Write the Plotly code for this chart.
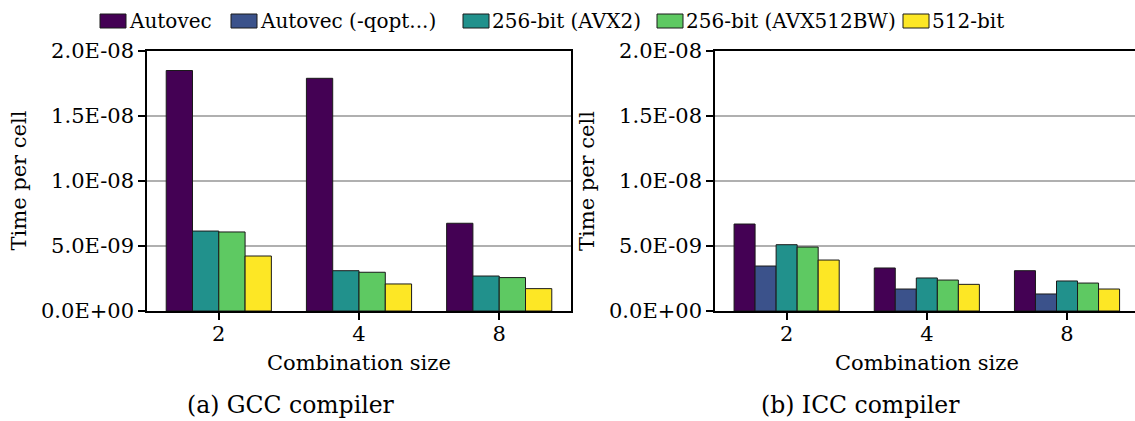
import plotly.graph_objects as go

# Combination sizes on the x axis
sizes = ["2", "4", "8"]

# Time per cell (seconds) per implementation
gcc_autovec = [1.85e-8, 1.79e-8, 6.75e-9]
gcc_avx2 = [6.15e-9, 3.10e-9, 2.69e-9]
gcc_avx512bw = [6.08e-9, 2.98e-9, 2.57e-9]
gcc_512bit = [4.23e-9, 2.08e-9, 1.72e-9]

icc_autovec = [6.69e-9, 3.31e-9, 3.10e-9]
icc_autovec_qopt = [3.46e-9, 1.69e-9, 1.31e-9]
icc_avx2 = [5.10e-9, 2.54e-9, 2.31e-9]
icc_avx512bw = [4.92e-9, 2.38e-9, 2.15e-9]
icc_512bit = [3.92e-9, 2.05e-9, 1.69e-9]

series_names = ["Autovec", "Autovec (-qopt...)", "256-bit (AVX2)",
                "256-bit (AVX512BW)", "512-bit"]
series_colors = ["#440154", "#3b528b", "#21918c", "#5ec962", "#fde725"]

y_tickvals = [0, 5e-9, 1e-8, 1.5e-8, 2e-8]
y_ticktext = ["0.0E+00", "5.0E-09", "1.0E-08", "1.5E-08", "2.0E-08"]

W, H = 1135, 421
FONT = "DejaVu Serif"
FS = 21


def px(x):
    return x / W


def py(y):
    return 1 - y / H


gcc = {0: gcc_autovec, 2: gcc_avx2, 3: gcc_avx512bw, 4: gcc_512bit}
icc = {0: icc_autovec, 1: icc_autovec_qopt, 2: icc_avx2, 3: icc_avx512bw, 4: icc_512bit}

fig = go.Figure()
for idx, vals in gcc.items():
    fig.add_trace(go.Bar(x=sizes, y=vals, name=series_names[idx],
                         marker=dict(color=series_colors[idx],
                                     line=dict(color="#1a1a1a", width=1)),
                         showlegend=False, xaxis="x", yaxis="y"))
for idx, vals in icc.items():
    fig.add_trace(go.Bar(x=sizes, y=vals, name=series_names[idx],
                         marker=dict(color=series_colors[idx],
                                     line=dict(color="#1a1a1a", width=1)),
                         showlegend=False, xaxis="x2", yaxis="y2"))

axis_common = dict(showline=True, linecolor="black", linewidth=1.5,
                   ticks="outside", ticklen=7, tickwidth=1.5, tickcolor="black",
                   automargin=False,
                   tickfont=dict(family=FONT, size=FS, color="black"))

fig.update_layout(
    width=W, height=H,
    margin=dict(l=0, r=0, t=0, b=0, autoexpand=False),
    paper_bgcolor="white", plot_bgcolor="white",
    showlegend=False,
    barmode="group", bargap=0.25, bargroupgap=0,
    font=dict(family=FONT, size=FS, color="black"),
    xaxis=dict(domain=[px(147), px(571)], anchor="y", type="category",
               range=[-0.512, 2.512], mirror=True, showgrid=False,
               ticklabelstandoff=-4, **axis_common),
    yaxis=dict(domain=[py(311), py(51)], anchor="x", range=[0, 2e-8],
               tickvals=y_tickvals, ticktext=y_ticktext, mirror=True,
               showgrid=True, gridcolor="#b0b0b0", gridwidth=1.5,
               zeroline=False, **axis_common),
    xaxis2=dict(domain=[px(715), 1.0], anchor="y2", type="category",
                range=[-0.511, 2.485], mirror=True, showgrid=False,
                ticklabelstandoff=-4, **axis_common),
    yaxis2=dict(domain=[py(311), py(51)], anchor="x2", range=[0, 2e-8],
                tickvals=y_tickvals, ticktext=y_ticktext, mirror=False,
                showgrid=True, gridcolor="#b0b0b0", gridwidth=1.5,
                zeroline=False, **axis_common),
)

annotations = []
shapes = []

# Axis titles and sub-captions
for cx_title, cx_cap, ylab_x, cap in [(359, 291, 18.5, "(a) GCC compiler"),
                                       (927, 860, 587, "(b) ICC compiler")]:
    annotations.append(dict(x=px(cx_title), y=py(363), xref="paper", yref="paper",
                            text="Combination size", showarrow=False,
                            xanchor="center", yanchor="middle",
                            font=dict(family=FONT, size=FS)))
    annotations.append(dict(x=px(ylab_x), y=py(181), xref="paper", yref="paper",
                            text="Time per cell", showarrow=False, textangle=-90,
                            xanchor="center", yanchor="middle",
                            font=dict(family=FONT, size=FS)))
    annotations.append(dict(x=px(cx_cap), y=py(405), xref="paper", yref="paper",
                            text=cap, showarrow=False,
                            xanchor="center", yanchor="middle",
                            font=dict(family=FONT, size=23.5)))

# Legend across the top: colour swatch followed by the series name
legend_x = [100, 231, 463, 657, 903]
for name, color, lx in zip(series_names, series_colors, legend_x):
    shapes.append(dict(type="rect", xref="paper", yref="paper",
                       x0=px(lx), x1=px(lx + 26), y0=py(28), y1=py(14),
                       fillcolor=color, line=dict(color="#1a1a1a", width=1)))
    annotations.append(dict(x=px(lx + 27), y=py(21), xref="paper", yref="paper",
                            text=name, showarrow=False,
                            xanchor="left", yanchor="middle",
                            font=dict(family=FONT, size=20)))

fig.update_layout(annotations=annotations, shapes=shapes)
fig.write_html("out.html")
